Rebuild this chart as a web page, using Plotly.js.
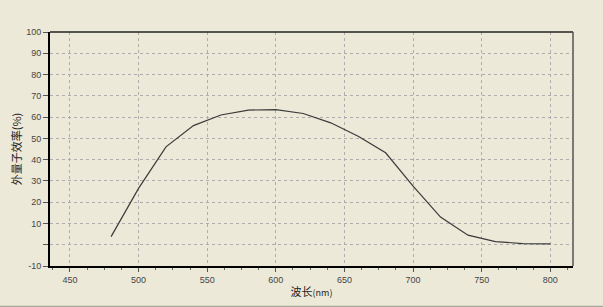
<!DOCTYPE html>
<html>
<head>
<meta charset="utf-8">
<script src="https://cdn.plot.ly/plotly-3.0.1.min.js"></script>
<style>
html,body{margin:0;padding:0;background:#ece9d8;}
#chart{width:603px;height:307px;}
</style>
</head>
<body>
<div id="chart"></div>
<script>
const wavelength = [480, 500, 520, 540, 560, 580, 600, 620, 640, 660, 680, 700, 720, 740, 760, 780, 800];
const eqe = [3.8, 26.5, 46, 56, 61, 63.3, 63.5, 61.7, 57.3, 51, 43.2, 27.5, 13, 4.5, 1.5, 0.5, 0.4];
const yTickVals = [-10, 0, 10, 20, 30, 40, 50, 60, 70, 80, 90, 100];
const yTickText = ['-10', '', '10', '20', '30', '40', '50', '60', '70', '80', '90', '100'];
const xTickVals = [450, 500, 550, 600, 650, 700, 750, 800];

const trace = {
  x: wavelength, y: eqe, type: 'scatter', mode: 'lines',
  line: {color: '#3a3a3a', width: 1.2}, hoverinfo: 'none'
};

const tickFont = {family: 'Liberation Sans, Arial, sans-serif', size: 9, color: '#444'};

const layout = {
  width: 603, height: 307,
  paper_bgcolor: '#ece9d8', plot_bgcolor: '#ece9d8',
  margin: {l: 50, r: 30, t: 32, b: 41},
  showlegend: false,
  xaxis: {
    range: [435.5, 816.5], tickvals: xTickVals, ticks: 'outside', ticklen: 4, tickcolor: '#555',
    showline: true, linecolor: '#000', linewidth: 2,
    showgrid: true, gridcolor: '#adadad', griddash: '3px,3px', gridwidth: 1,
    zeroline: false, tickfont: tickFont,
    minor: {dtick: 12.5, tick0: 450, ticks: 'outside', ticklen: 2, tickcolor: '#666', showgrid: false},
    title: {text: '波长<span style="font-size:9px">(nm)</span>', standoff: 5,
            font: {family: 'Noto Sans CJK SC, sans-serif', size: 11, color: '#222'}}
  },
  yaxis: {
    range: [-10, 100], tickvals: yTickVals, ticktext: yTickText, ticks: 'outside', ticklen: 5, tickcolor: '#555',
    showline: true, linecolor: '#000', linewidth: 2,
    showgrid: true, gridcolor: '#adadad', griddash: '3px,3px', gridwidth: 1,
    zeroline: false, tickfont: tickFont,
    title: {text: '外量子效率(%)', standoff: 2,
            font: {family: 'Noto Sans CJK SC, sans-serif', size: 11, color: '#222'}}
  },
  shapes: [
    {type: 'line', xref: 'paper', yref: 'paper', x0: 0, x1: 1, y0: 1, y1: 1, line: {color: '#222', width: 1.5}},
    {type: 'line', xref: 'paper', yref: 'paper', x0: 1, x1: 1, y0: 0, y1: 1, line: {color: '#555', width: 1.5}},
    {type: 'line', xref: 'paper', yref: 'paper', x0: -50/523, x1: 1 + 30/523, y0: -40.5/234, y1: -40.5/234, line: {color: '#aca899', width: 1.5}}
  ]
};

Plotly.newPlot('chart', [trace], layout, {staticPlot: true, displayModeBar: false});
</script>
</body>
</html>
